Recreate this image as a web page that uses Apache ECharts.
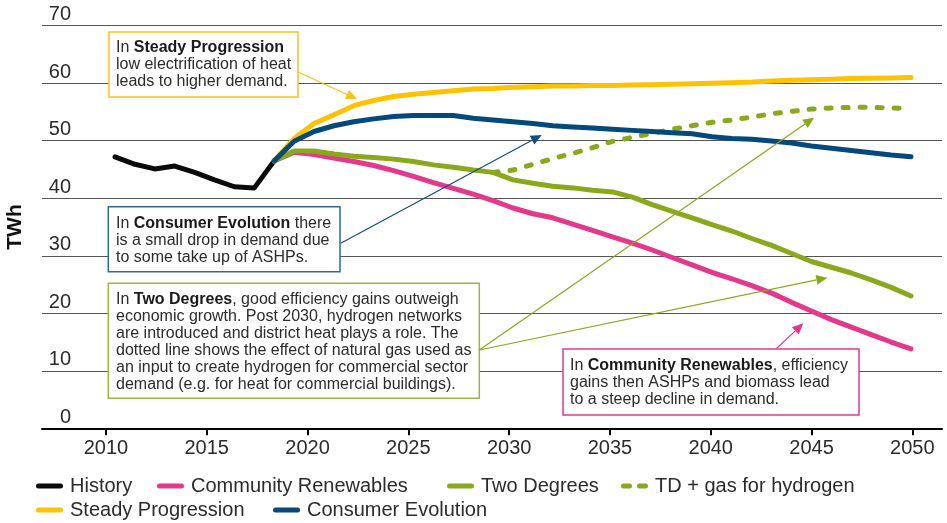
<!DOCTYPE html>
<html>
<head>
<meta charset="utf-8">
<script src="https://cdn.jsdelivr.net/npm/echarts@6/dist/echarts.min.js"></script>
<style>
html,body{margin:0;padding:0;background:#fff;}
#chart{width:947px;height:523px;}
</style>
</head>
<body>
<div id="chart"></div>
<script>
// ---- data ----
const historyYears = [2010, 2011, 2012, 2013, 2014, 2015, 2016, 2017, 2018];
const historyValues = [47.2, 45.9, 45.1, 45.6, 44.5, 43.2, 42.0, 41.8, 46.5];

const scenarioYears = [2018, 2019, 2020, 2021, 2022, 2023, 2024, 2025, 2026, 2027, 2028,
  2029, 2030, 2031, 2032, 2033, 2034, 2035, 2036, 2037, 2038, 2039, 2040,
  2041, 2042, 2043, 2044, 2045, 2046, 2047, 2048, 2049, 2050];
const communityRenewables = [46.5, 48.0, 47.6, 47.0, 46.4, 45.7, 44.8, 43.8, 42.7, 41.7, 40.7,
  39.6, 38.3, 37.3, 36.6, 35.5, 34.4, 33.3, 32.2, 31.0, 29.7, 28.4, 27.1,
  26.0, 24.8, 23.5, 21.9, 20.4, 18.9, 17.6, 16.3, 15.0, 13.8];
const twoDegrees = [46.5, 48.2, 48.2, 47.7, 47.3, 47.1, 46.8, 46.4, 45.8, 45.4, 44.9,
  44.5, 43.2, 42.6, 42.1, 41.8, 41.4, 41.1, 40.2, 38.9, 37.7, 36.6, 35.4,
  34.3, 33.0, 31.8, 30.4, 29.0, 28.0, 27.0, 25.8, 24.5, 23.0];
const steadyProgression = [46.5, 50.4, 53.0, 54.5, 56.1, 57.0, 57.7, 58.1, 58.4, 58.7, 59.0,
  59.1, 59.3, 59.4, 59.5, 59.5, 59.6, 59.6, 59.7, 59.75, 59.8, 59.9, 60.0,
  60.1, 60.2, 60.4, 60.5, 60.6, 60.7, 60.8, 60.85, 60.9, 61.0];
const consumerEvolution = [46.5, 49.9, 51.6, 52.6, 53.3, 53.8, 54.2, 54.4, 54.4, 54.4, 53.9,
  53.6, 53.3, 53.0, 52.6, 52.4, 52.2, 52.0, 51.8, 51.6, 51.4, 51.2, 50.7,
  50.4, 50.25, 49.95, 49.6, 49.1, 48.7, 48.3, 47.9, 47.5, 47.2];

const tdGasYears = [2029, 2030, 2031, 2032, 2033, 2034, 2035, 2036, 2037, 2038, 2039, 2040,
  2041, 2042, 2043, 2044, 2045, 2046, 2047, 2048, 2049, 2050];
const tdGasHydrogen = [44.5, 44.9, 45.9, 46.9, 47.8, 48.8, 49.9, 50.6, 51.3, 52.0, 52.6, 53.2,
  53.6, 54.1, 54.7, 55.1, 55.5, 55.7, 55.8, 55.8, 55.7, 55.6];

const xTickLabels = [2010, 2015, 2020, 2025, 2030, 2035, 2040, 2045, 2050];
const yTicks = {min: 0, max: 70, interval: 10};

const seriesNames = ['History', 'Community Renewables', 'Two Degrees', 'TD + gas for hydrogen',
  'Steady Progression', 'Consumer Evolution'];
const seriesColors = ['#0a0a0a', '#e5388b', '#8aa91a', '#8aa91a', '#fdc300', '#03497c'];

// ---- build ----
const pairs = (xs, ys) => xs.map((x, i) => [x, ys[i]]);
const FONT = '"Liberation Sans", Arial, sans-serif';
const TXT = '#2b2b2b';

function lineSeries(idx, data, dashed) {
  return {
    name: seriesNames[idx], type: 'line', xAxisIndex: 1, yAxisIndex: 0,
    data: data, symbol: 'none', smooth: false, silent: true,
    color: seriesColors[idx],
    lineStyle: {width: 5, color: seriesColors[idx], cap: 'round', join: 'round',
      type: dashed ? [5, 12] : 'solid'},
    z: 2 + idx
  };
}

function arrow(x1, y1, x2, y2, color) {
  const dx = x2 - x1, dy = y2 - y1, len = Math.sqrt(dx * dx + dy * dy);
  const ux = dx / len, uy = dy / len, hl = 11, hw = 5;
  const bx = x2 - ux * hl, by = y2 - uy * hl;
  return [
    {type: 'line', z: 50, shape: {x1: x1, y1: y1, x2: bx, y2: by},
      style: {stroke: color, lineWidth: 1.2}},
    {type: 'polygon', z: 50, shape: {points: [[x2, y2], [bx - uy * hw, by + ux * hw], [bx + uy * hw, by - ux * hw]]},
      style: {fill: color}}
  ];
}

function box(x, y, w, h, color) {
  return {type: 'rect', z: 40, shape: {x: x, y: y, width: w, height: h},
    style: {fill: '#fff', stroke: color, lineWidth: 1.5}};
}

function note(x, y, text) {
  return {type: 'text', z: 60, x: x, y: y,
    style: {text: text, font: '16px ' + FONT, fontSize: 16, fontFamily: FONT, fill: TXT,
      lineHeight: 17, verticalAlign: 'top', align: 'left',
      rich: {b: {fontWeight: 'bold', fontSize: 16, fontFamily: FONT, fill: '#1a1a1a', lineHeight: 17}}}};
}

const SOLID_ICON = 'path://M2.5,0 L24.5,0 A2.5,2.5 0 0 1 24.5,5 L2.5,5 A2.5,2.5 0 0 1 2.5,0 Z';
const DASH_ICON = 'path://M2.5,0 L8.5,0 A2.5,2.5 0 0 1 8.5,5 L2.5,5 A2.5,2.5 0 0 1 2.5,0 Z M18.5,0 L24.5,0 A2.5,2.5 0 0 1 24.5,5 L18.5,5 A2.5,2.5 0 0 1 18.5,0 Z';
const legendPos = [[36, 474], [157, 474], [447, 474], [621, 474], [36, 498], [273, 498]];
const legends = seriesNames.map((n, i) => ({
  data: [n], left: legendPos[i][0], top: legendPos[i][1], orient: 'horizontal', padding: 0,
  icon: i === 3 ? DASH_ICON : SOLID_ICON,
  itemWidth: 27, itemHeight: 5, selectedMode: false,
  textStyle: {fontSize: 20, fontFamily: FONT, color: TXT, padding: [0, 0, 0, 2], lineHeight: 24}
}));

const option = {
  animation: false,
  backgroundColor: '#fff',
  grid: {left: 42, right: 5, top: 25.7, bottom: 94.7, containLabel: false, outerBoundsMode: 'none'},
  xAxis: [
    {type: 'value', min: 2006.83, max: 2051.47, position: 'bottom',
      axisLine: {show: true, onZero: false, lineStyle: {color: '#000', width: 2}},
      axisTick: {show: true, customValues: xTickLabels, length: 7, lineStyle: {color: '#000', width: 2}},
      axisLabel: {customValues: xTickLabels, fontSize: 20, fontFamily: FONT, color: TXT, margin: 10,
        formatter: v => String(v)},
      splitLine: {show: false}},
    {type: 'value', min: 2006.33, max: 2051.56, show: false}
  ],
  yAxis: {
    type: 'value', min: yTicks.min, max: yTicks.max, interval: yTicks.interval,
    name: 'TWh', nameLocation: 'middle', nameRotate: 90, nameGap: 16.5,
    nameTextStyle: {fontSize: 21, fontWeight: 'bold', fontFamily: FONT, color: '#111'},
    axisLine: {show: false}, axisTick: {show: false},
    axisLabel: {inside: true, align: 'right', verticalAlign: 'bottom', margin: 29,
      fontSize: 20, fontFamily: FONT, color: TXT, lineHeight: 20, padding: [0, 0, 1, 0]},
    splitLine: {show: true, lineStyle: {color: '#555', width: 1}}
  },
  legend: legends,
  series: [
    lineSeries(0, pairs(historyYears, historyValues)),
    lineSeries(1, pairs(scenarioYears, communityRenewables)),
    lineSeries(2, pairs(scenarioYears, twoDegrees)),
    lineSeries(3, pairs(tdGasYears, tdGasHydrogen), true),
    lineSeries(4, pairs(scenarioYears, steadyProgression)),
    lineSeries(5, pairs(scenarioYears, consumerEvolution))
  ],
  graphic: [].concat(
    arrow(298, 72, 357, 99, '#f7c21b'),
    arrow(340.7, 243.3, 541.7, 135, '#0e4f82'),
    arrow(479.3, 350, 814, 117.7, '#8aa91a'),
    arrow(479.3, 350, 827.3, 277.7, '#8aa91a'),
    arrow(776.7, 348.3, 803.3, 323.3, '#e5388b'),
    [
      box(109, 32, 189, 65, '#f7c21b'),
      note(116, 39.5, 'In {b|Steady Progression}\nlow electrification of heat\nleads to higher demand.'),
      box(108.3, 206.7, 231.7, 65, '#2d6a99'),
      note(116, 214.8, 'In {b|Consumer Evolution} there\nis a small drop in demand due\nto some take up of ASHPs.'),
      box(108.3, 283.3, 371, 115, '#9cb73a'),
      note(116, 290.8, 'In {b|Two Degrees}, good efficiency gains outweigh\neconomic growth. Post 2030, hydrogen networks\nare introduced and district heat plays a role. The\ndotted line shows the effect of natural gas used as\nan input to create hydrogen for commercial sector\ndemand (e.g. for heat for commercial buildings).'),
      box(563, 349, 296, 66, '#e5388b'),
      note(570, 357, 'In {b|Community Renewables}, efficiency\ngains then ASHPs and biomass lead\nto a steep decline in demand.')
    ]
  )
};

const chart = echarts.init(document.getElementById('chart'), null, {renderer: 'canvas'});
chart.setOption(option);
</script>
</body>
</html>
